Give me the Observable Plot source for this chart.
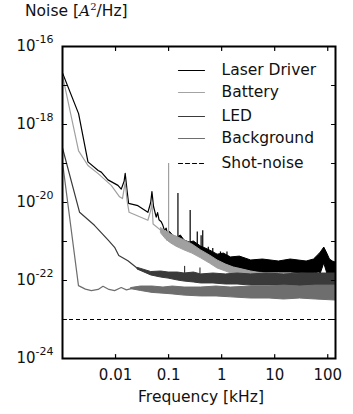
<!DOCTYPE html>
<html><head><meta charset="utf-8">
<script src="https://cdn.jsdelivr.net/npm/d3@7"></script>
<script src="https://cdn.jsdelivr.net/npm/@observablehq/plot@0.6"></script>
<style>
body{margin:0;background:#fff;font-family:"DejaVu Sans",sans-serif;}
#title{box-sizing:border-box;height:30px;padding:1px 0 0 25px;line-height:20px;font-size:15.5px;color:#111;}
#title i{font-family:"DejaVu Serif",serif;}
#title sup{font-family:"DejaVu Serif",serif;font-size:10px;line-height:0;}
svg{display:block;}
</style></head>
<body>
<div id="title">Noise [<i>A</i><sup>2</sup>/Hz]</div>
<div id="chart"></div>
<script>
// ---------- data (frequency in kHz, noise in A^2/Hz) ----------
const seriesNames = ["Laser Driver", "Battery", "LED", "Background", "Shot-noise"];
const seriesColors = ["#000000", "#a3a3a3", "#3a3a3a", "#6e6e6e", "#000000"];

const laserF = [0.001, 0.00201, 0.00302, 0.0047, 0.00538, 0.0072, 0.0111, 0.0128, 0.0145, 0.0152, 0.0165, 0.0176, 0.0264, 0.0407, 0.046, 0.0485, 0.052, 0.0584, 0.062, 0.066, 0.0726, 0.078, 0.0837, 0.09, 0.095];
const laserV = [2.1e-17, 1.9e-18, 1.1e-19, 6.6e-20, 6.0e-20, 3.8e-20, 2.75e-20, 2.2e-20, 3.5e-20, 5.6e-20, 2.0e-20, 9.5e-21, 8.3e-21, 5.6e-21, 1.0e-20, 1.9e-20, 7.9e-21, 4.2e-21, 5.5e-21, 3.6e-21, 3.2e-21, 2.6e-21, 1.9e-21, 2.2e-21, 1.6e-21];
const laserBandF  = [0.095, 0.105, 0.112, 0.13, 0.15, 0.17, 0.2, 0.25, 0.3, 0.41, 0.5, 0.6, 0.84, 1.1, 1.5, 2.2, 3.6, 6, 12, 20, 40, 55, 68, 74, 86, 98, 110, 125, 140];
const laserBandHi = [1.34e-21, 1.8e-21, 1.6e-21, 1.34e-21, 1.27e-21, 1.43e-21, 1.06e-21, 9.4e-22, 1.0e-21, 7.4e-22, 6.6e-22, 5.9e-22, 4.6e-22, 4.9e-22, 3.9e-22, 4.1e-22, 3.26e-22, 3.45e-22, 3.07e-22, 3.45e-22, 3.07e-22, 3.45e-22, 4.6e-22, 5.2e-22, 7.0e-22, 4.9e-22, 3.45e-22, 3.07e-22, 2.9e-22];
const laserBandLo = [1.06e-21, 1.0e-21, 9.4e-22, 8.4e-22, 7.4e-22, 7.4e-22, 6.6e-22, 5.9e-22, 5.5e-22, 5.2e-22, 4.1e-22, 3.7e-22, 2.9e-22, 2.73e-22, 2.29e-22, 2.03e-22, 1.7e-22, 1.6e-22, 1.6e-22, 1.6e-22, 1.51e-22, 1.51e-22, 1.6e-22, 1.51e-22, 2.73e-22, 1.51e-22, 1.51e-22, 1.51e-22, 1.51e-22];
const laserSpikeF    = [0.15, 0.255, 0.347, 0.41, 0.44, 0.56, 0.68, 0.95, 1.26];
const laserSpikeTop  = [1.7e-20, 6.2e-21, 1.74e-21, 1.4e-21, 1.9e-21, 7.1e-22, 6.6e-22, 5.4e-22, 5.4e-22];
const laserSpikeBase = [1.1e-21, 8e-22, 7e-22, 6e-22, 6e-22, 4.5e-22, 4e-22, 3.5e-22, 3e-22];

const batF = [0.001, 0.00201, 0.00302, 0.0047, 0.0083, 0.0119, 0.0135, 0.0152, 0.0165, 0.018, 0.0407, 0.046, 0.0485, 0.051, 0.0726];
const batV = [1.8e-17, 2.1e-19, 8.9e-20, 5.5e-20, 2.75e-20, 1.4e-20, 1.26e-20, 3.3e-20, 1.1e-20, 5.6e-21, 3.5e-21, 6.3e-21, 1.0e-20, 2.8e-21, 1.9e-21];
const batBandF  = [0.0726, 0.09, 0.112, 0.14, 0.2, 0.28, 0.41, 0.6, 0.84, 1.2, 1.7, 2.5, 3.6, 6, 13, 140];
const batBandHi = [2.2e-21, 1.8e-21, 1.51e-21, 1.34e-21, 1.06e-21, 8.4e-22, 5.9e-22, 4.38e-22, 3.26e-22, 2.57e-22, 2.15e-22, 1.91e-22, 1.7e-22, 1.51e-22, 1.43e-22, 1.34e-22];
const batBandLo = [1.6e-21, 1.12e-21, 8.9e-22, 7.4e-22, 5.9e-22, 4.9e-22, 3.7e-22, 2.73e-22, 2.03e-22, 1.7e-22, 1.43e-22, 1.27e-22, 1.19e-22, 1.12e-22, 1.06e-22, 1.0e-22];
const batSpikeF = [0.1];
const batSpikeTop = [1.0e-19];
const batSpikeBase = [1.6e-21];

const ledF = [0.001, 0.0021, 0.004, 0.0072, 0.0096, 0.0115, 0.0171, 0.0264];
const ledV = [2.5e-19, 5.6e-21, 2.6e-21, 1.1e-21, 7.1e-22, 4.4e-22, 3.2e-22, 2.0e-22];
const ledBandF  = [0.0264, 0.047, 0.0725, 0.1, 0.15, 0.2, 0.3, 0.41, 0.7, 1.2, 2, 3.6, 7, 15, 30, 60, 140];
const ledBandHi = [2.1e-22, 1.65e-22, 1.7e-22, 1.6e-22, 1.6e-22, 1.51e-22, 1.6e-22, 1.43e-22, 1.51e-22, 1.43e-22, 1.51e-22, 1.43e-22, 1.51e-22, 1.43e-22, 1.51e-22, 1.51e-22, 1.51e-22];
const ledBandLo = [1.9e-22, 1.35e-22, 1.19e-22, 1.12e-22, 1.0e-22, 9.4e-23, 8.9e-23, 8.4e-23, 8.4e-23, 7.9e-23, 7.9e-23, 7.4e-23, 7.4e-23, 7.4e-23, 7.0e-23, 7.0e-23, 7.0e-23];
const ledSpikeF = [0.2, 0.39];
const ledSpikeTop = [2.3e-22, 2.1e-22];
const ledSpikeBase = [1.4e-22, 1.3e-22];

const bgF = [0.001, 0.0020, 0.0027, 0.0035, 0.0047, 0.0058, 0.0075, 0.0096, 0.0128, 0.016, 0.0198];
const bgV = [1.07e-19, 7.4e-23, 6.0e-23, 5.5e-23, 5.9e-23, 7.1e-23, 5.9e-23, 5.5e-23, 6.6e-23, 5.75e-23, 6.2e-23];
const bgBandF  = [0.0198, 0.03, 0.05, 0.08, 0.12, 0.2, 0.41, 0.8, 1.5, 3.6, 8, 15, 30, 60, 140];
const bgBandHi = [6.4e-23, 7.0e-23, 7.0e-23, 6.6e-23, 7.0e-23, 6.6e-23, 6.6e-23, 7.0e-23, 6.6e-23, 7.0e-23, 7.0e-23, 7.4e-23, 7.0e-23, 7.4e-23, 7.4e-23];
const bgBandLo = [6.0e-23, 5.4e-23, 4.8e-23, 4.6e-23, 4.4e-23, 4.1e-23, 3.9e-23, 3.9e-23, 3.7e-23, 3.45e-23, 3.45e-23, 3.26e-23, 3.45e-23, 3.26e-23, 3.07e-23];

const shotNoise = 1e-23;

const xTickValues = [0.01, 0.1, 1, 10, 100];
const xTickLabels = ["0.01", "0.1", "1", "10", "100"];
const yTickValues = [1e-16, 1e-18, 1e-20, 1e-22, 1e-24];
const yTickLabels = ["-16", "-18", "-20", "-22", "-24"];
const yMinorValues = [1e-16, 1e-17, 1e-18, 1e-19, 1e-20, 1e-21, 1e-22, 1e-23, 1e-24];
const xMinorValues = [0.01, 0.1, 1, 10, 100];
const xDomain = [0.001, 140];
const yDomain = [1e-24, 1e-16];
const xLabel = "Frequency [kHz]";

// ---------- tables ----------
const pts = (F, V) => F.map((f, i) => ({f, v: V[i]}));
const band = (F, H, L) => F.map((f, i) => ({f, hi: H[i], lo: L[i]}));
const spikes = (F, T, B) => F.map((f, i) => ({f, top: T[i], base: B[i]}));

const tickShape = {draw(ctx, l) { ctx.moveTo(0, 0); ctx.lineTo(0, -l); }};

function seriesMarks(line, bnd, spk, color) {
  const m = [];
  if (bnd) m.push(Plot.areaY(bnd, {x: "f", y1: "lo", y2: "hi", fill: color, stroke: color, strokeWidth: 1, clip: true}));
  m.push(Plot.line(line, {x: "f", y: "v", stroke: color, strokeWidth: 1.2, clip: true}));
  if (spk) m.push(Plot.ruleX(spk, {x: "f", y1: "base", y2: "top", stroke: color, strokeWidth: 1.2, clip: true}));
  return m;
}

const legendDy = [24, 46, 70, 92, 117];
const legendMarks = [];
seriesNames.forEach((name, i) => {
  legendMarks.push(Plot.vector([0], {frameAnchor: "top-left", dx: 116, dy: legendDy[i], length: 26, rotate: 90, anchor: "start",
    shape: tickShape, stroke: seriesColors[i], strokeWidth: 1.2, strokeDasharray: i === 4 ? "4,3" : null}));
  legendMarks.push(Plot.text([name], {frameAnchor: "top-left", dx: 159, dy: legendDy[i], text: d => d, textAnchor: "start", lineAnchor: "middle", fontSize: 15.5, fill: "#111"}));
});

const plot = Plot.plot({
  width: 353, height: 384,
  marginTop: 16, marginLeft: 62, marginRight: 18, marginBottom: 56,
  style: {fontFamily: "DejaVu Sans", fontSize: "15px", color: "#111", background: "white", overflow: "visible"},
  x: {type: "log", domain: xDomain},
  y: {type: "log", domain: yDomain},
  marks: [
    ...seriesMarks(pts(laserF, laserV), band(laserBandF, laserBandHi, laserBandLo), spikes(laserSpikeF, laserSpikeTop, laserSpikeBase), seriesColors[0]),
    ...seriesMarks(pts(batF, batV), band(batBandF, batBandHi, batBandLo), spikes(batSpikeF, batSpikeTop, batSpikeBase), "#a0a0a0"),
    ...seriesMarks(pts(ledF, ledV), band(ledBandF, ledBandHi, ledBandLo), spikes(ledSpikeF, ledSpikeTop, ledSpikeBase), seriesColors[2]),
    ...seriesMarks(pts(bgF, bgV), band(bgBandF, bgBandHi, bgBandLo), null, seriesColors[3]),
    Plot.ruleY([shotNoise], {stroke: "black", strokeWidth: 1.2, strokeDasharray: "4,3"}),
    Plot.frame({stroke: "black", strokeWidth: 2}),
    Plot.vector(xMinorValues, {x: d => d, y: yDomain[0], length: 4, rotate: 0, anchor: "start", shape: tickShape, stroke: "black", strokeWidth: 1.2}),
    Plot.vector(xMinorValues, {x: d => d, y: yDomain[1], length: 4, rotate: 180, anchor: "start", shape: tickShape, stroke: "black", strokeWidth: 1.2}),
    Plot.vector(yMinorValues, {x: xDomain[0], y: d => d, length: 4, rotate: 90, anchor: "start", shape: tickShape, stroke: "black", strokeWidth: 1.2}),
    Plot.vector(yMinorValues, {x: xDomain[1], y: d => d, length: 4, rotate: -90, anchor: "start", shape: tickShape, stroke: "black", strokeWidth: 1.2}),
    Plot.axisX({ticks: xTickValues, tickFormat: d => xTickLabels[xTickValues.indexOf(d)], tickSize: 0, tickPadding: 11, label: null, fontSize: 15}),
    Plot.axisY({ticks: yTickValues, tickFormat: d => "10^" + yTickLabels[yTickValues.indexOf(d)], tickSize: 0, tickPadding: 9, label: null, fontSize: 15}),
    Plot.text([xLabel], {frameAnchor: "bottom", dy: 39, dx: 2, text: d => d, lineAnchor: "middle", fontSize: 15.5, fill: "#111"}),
    ...legendMarks
  ]
});

d3.select(plot).selectAll('g[aria-label="y-axis tick label"] text').each(function() {
  const parts = this.textContent.split("^");
  const sel = d3.select(this);
  sel.text(null);
  sel.append("tspan").text(parts[0]);
  sel.append("tspan").attr("dy", "-8").attr("font-size", "11px").text(parts[1]);
});

document.getElementById("chart").appendChild(plot);
</script>
</body></html>
